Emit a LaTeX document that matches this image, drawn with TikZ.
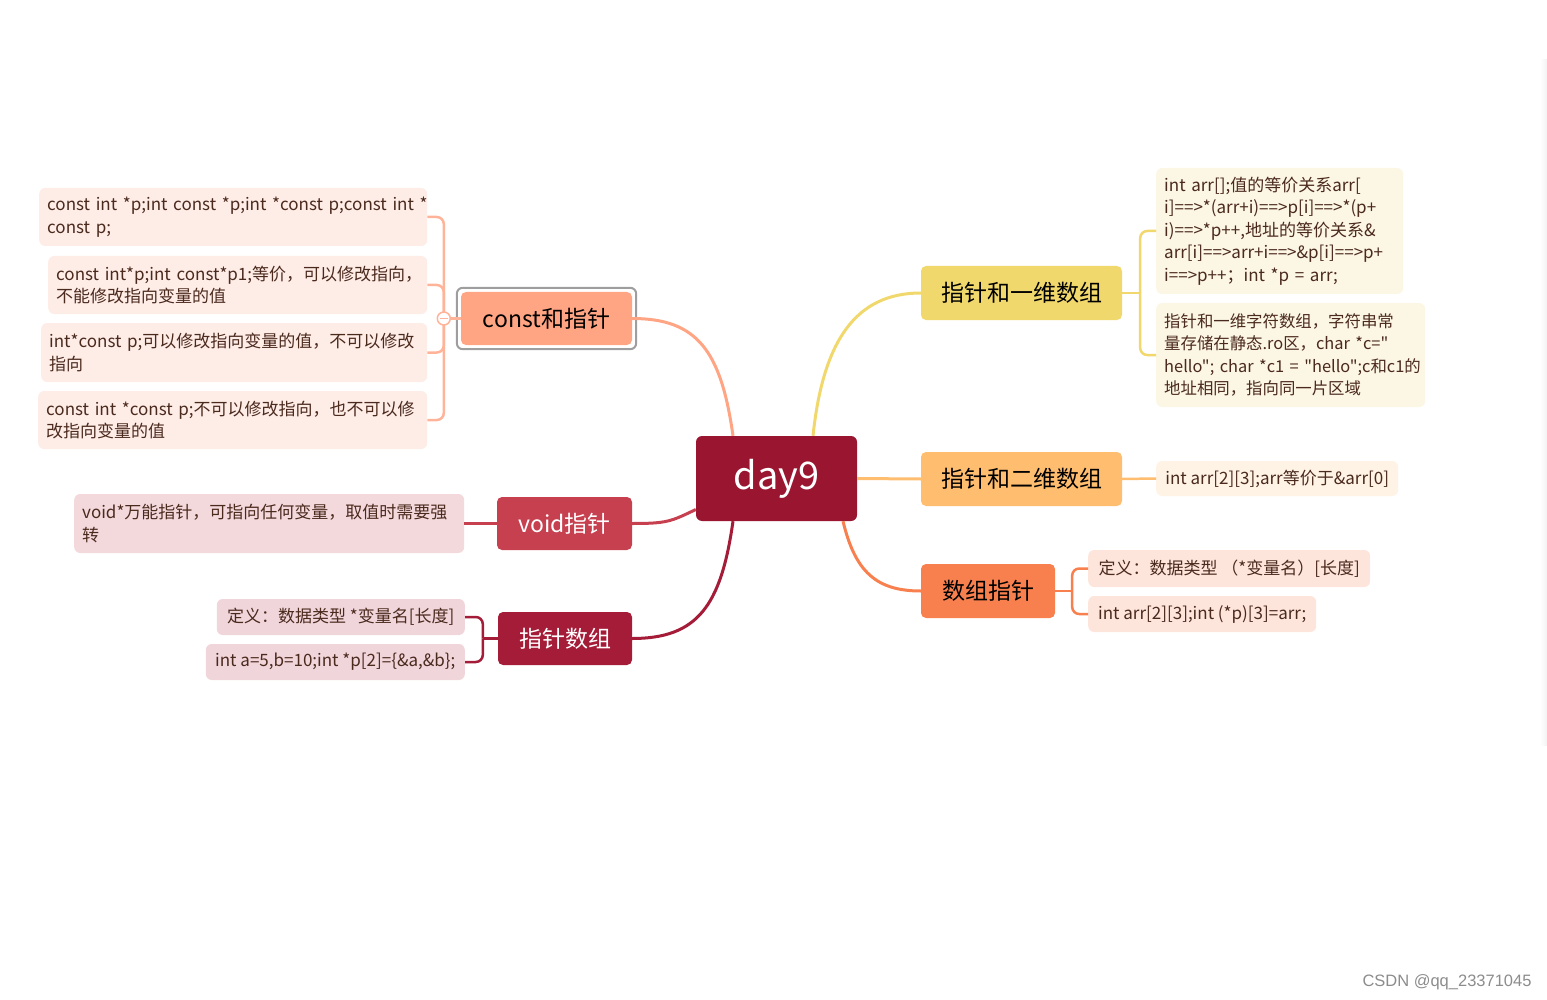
\documentclass[tikz,border=0pt]{standalone}
\usepackage{fontspec}
\setmainfont{Noto Sans CJK SC}[Ligatures=TeXOff]
\newfontfamily\wmfont{Liberation Sans}
\usepackage{xcolor}
\usetikzlibrary{positioning,calc}

\definecolor{rootred}{HTML}{9A1530}
\definecolor{constfill}{HTML}{FFA584}
\definecolor{constline}{HTML}{FFB49A}
\definecolor{constleaf}{HTML}{FEECE6}
\definecolor{voidfill}{HTML}{C6404F}
\definecolor{voidleaf}{HTML}{F3D9DC}
\definecolor{parrfill}{HTML}{A41C38}
\definecolor{parrleaf}{HTML}{F0D5DA}
\definecolor{onefill}{HTML}{F1D86D}
\definecolor{oneleaf}{HTML}{FCF6E4}
\definecolor{twofill}{HTML}{FFBD70}
\definecolor{twoleaf}{HTML}{FFF3E5}
\definecolor{aptrfill}{HTML}{F8804F}
\definecolor{aptrleaf}{HTML}{FDE5DC}
\definecolor{leaftext}{HTML}{4B2A1E}

\begin{document}
\begin{tikzpicture}[x=1pt, y=-1pt,
    topic/.style={rectangle, rounded corners=5pt, minimum height=53pt, inner sep=0pt,
        font=\fontsize{23}{26}\selectfont},
    leaf/.style={rectangle, rounded corners=6pt, inner xsep=8pt, inner ysep=5pt,
        align=left, text=leaftext, font=\fontsize{17}{22.5}\selectfont},
    link/.style={line width=3pt},
    twig/.style={line width=2.5pt, rounded corners=7pt}]
    \useasboundingbox (0,0) rectangle (1547,1000);
    \shade[left color=white, right color=black!5] (1540,60) rectangle (1547,745);

    % Root
    \node [rectangle, rounded corners=6pt, fill=rootred, text=white, minimum width=161pt,
        minimum height=85pt, font=\fontsize{38}{40}\selectfont] (day9) at (776.5,478.5) {day9};

    % const branch
    \node [topic, fill=constfill, minimum width=171pt] (const) at (546.5,318.5) {const和指针};
    \draw [line width=2pt, draw=black!38, rounded corners=6pt]
        ([shift={(-4,-4)}]const.north west) rectangle ([shift={(4,4)}]const.south east);
    \node [leaf, fill=constleaf, text width=372pt, minimum height=58pt, anchor=west] (c1) at (39,217)
        {\mbox{const int *p;int const *p;int *const p;const int *}\\const p;};
    \node [leaf, fill=constleaf, text width=363pt, minimum height=58pt, anchor=west] (c2) at (48,285)
        {\mbox{const int*p;int const*p1;等价，可以修改指向，}\\不能修改指向变量的值};
    \node [leaf, fill=constleaf, text width=370pt, minimum height=59pt, anchor=west] (c3) at (41,352.5)
        {\mbox{int*const p;可以修改指向变量的值，不可以修改}\\指向};
    \node [leaf, fill=constleaf, text width=373pt, minimum height=58pt, anchor=west] (c4) at (38,420)
        {\mbox{const int *const p;不可以修改指向，也不可以修}\\改指向变量的值};
    \draw [link, constfill] ([xshift=-43.5]day9.north) .. controls +(-12,-85) and +(65,0) .. (const.east);
    \coordinate (cj) at ([xshift=-17]const.west);
    \draw [twig, constline] (const.west) -- (cj);
    \draw [twig, constline] (cj) |- (c1.east);
    \draw [twig, constline] (cj) |- (c2.east);
    \draw [twig, constline] (cj) |- (c3.east);
    \draw [twig, constline] (cj) |- (c4.east);
    \node [circle, draw=constline, line width=1.5pt, fill=white, minimum size=13pt, inner sep=0pt] (fold) at (cj) {};
    \draw [constline, line width=1.5pt] ([xshift=3]fold.west) -- ([xshift=-3]fold.east);

    % void branch
    \node [topic, fill=voidfill, text=white, minimum width=135pt] (void) at (564.5,523.5) {void指针};
    \node [leaf, fill=voidleaf, text width=374pt, minimum height=59pt, anchor=west] (v1) at (74,523.5)
        {\mbox{void*万能指针，可指向任何变量，取值时需要强}\\转};
    \draw [link, voidfill] ([yshift=-31]day9.west) .. controls +(-25,12) and +(35,0) .. (void.east);
    \draw [twig, voidfill] (void.west) -- (v1.east);

    % pointer array branch
    \node [topic, fill=parrfill, text=white, minimum width=134pt] (parr) at (565,638.5) {指针数组};
    \node [leaf, fill=parrleaf, minimum width=248pt, minimum height=36pt, anchor=east] (p1) at (465,617)
        {定义：数据类型 *变量名[长度]};
    \node [leaf, fill=parrleaf, minimum width=259pt, minimum height=36pt, anchor=east] (p2) at (465,662)
        {int a=5,b=10;int *p[2]=\{\&a,\&b\};};
    \draw [link, parrfill] ([xshift=-43.5]day9.south) .. controls +(-12,85) and +(65,0) .. (parr.east);
    \coordinate (pj) at ([xshift=-15]parr.west);
    \draw [twig, parrfill] (parr.west) -- (pj);
    \draw [twig, parrfill] (pj) |- (p1.east);
    \draw [twig, parrfill] (pj) |- (p2.east);

    % one-dim array branch
    \node [topic, fill=onefill, minimum width=201pt, minimum height=54pt] (one) at (1021.5,293) {指针和一维数组};
    \node [leaf, fill=oneleaf, text width=231pt, minimum height=126pt, anchor=west] (o1) at (1156,231)
        {\mbox{int arr[];值的等价关系arr[}\\\mbox{i]==>*(arr+i)==>p[i]==>*(p+}\\\mbox{i)==>*p++,地址的等价关系\&}\\\mbox{arr[i]==>arr+i==>\&p[i]==>p+}\\\mbox{i==>p++；int *p = arr;}};
    \node [leaf, fill=oneleaf, text width=253pt, minimum height=104pt, anchor=west,
        font=\fontsize{16.4}{22.5}\selectfont] (o2) at (1156,355)
        {\mbox{指针和一维字符数组，字符串常}\\\mbox{量存储在静态.ro区，char *c="}\\\mbox{hello"; char *c1 = "hello";c和c1的}\\\mbox{地址相同，指向同一片区域}};
    \draw [link, onefill] ([xshift=36.5]day9.north) .. controls +(10,-95) and +(-65,0) .. (one.west);
    \coordinate (oj) at ([xshift=18]one.east);
    \draw [twig, onefill] (one.east) -- (oj);
    \draw [twig, onefill] (oj) |- (o1.west);
    \draw [twig, onefill] (oj) |- (o2.west);

    % two-dim array branch
    \node [topic, fill=twofill, minimum width=201pt, minimum height=54pt] (two) at (1021.5,479) {指针和二维数组};
    \node [leaf, fill=twoleaf, minimum width=242pt, minimum height=35pt, anchor=west] (t1) at (1156,478.5)
        {int arr[2][3];arr等价于\&arr[0]};
    \draw [link, twofill] (day9.east) -- (two.west);
    \draw [twig, twofill] (two.east) -- (t1.west);

    % array pointer branch
    \node [topic, fill=aptrfill, minimum width=134pt, minimum height=54pt] (aptr) at (988,591) {数组指针};
    \node [leaf, fill=aptrleaf, minimum width=282pt, minimum height=37pt, anchor=west] (a1) at (1088,568.5)
        {定义：数据类型 （*变量名）[长度]};
    \node [leaf, fill=aptrleaf, minimum width=228pt, minimum height=36pt, anchor=west] (a2) at (1088,614)
        {int arr[2][3];int (*p)[3]=arr;};
    \draw [link, aptrfill] ([xshift=66.5]day9.south) .. controls +(12,50) and +(-45,0) .. (aptr.west);
    \coordinate (aj) at ([xshift=17]aptr.east);
    \draw [twig, aptrfill] (aptr.east) -- (aj);
    \draw [twig, aptrfill] (aj) |- (a1.west);
    \draw [twig, aptrfill] (aj) |- (a2.west);

    \node [text=black!45, font=\wmfont\fontsize{16.5}{19}\selectfont] (mark) at (1447,982) {CSDN @qq\_23371045};
\end{tikzpicture}
\end{document}
